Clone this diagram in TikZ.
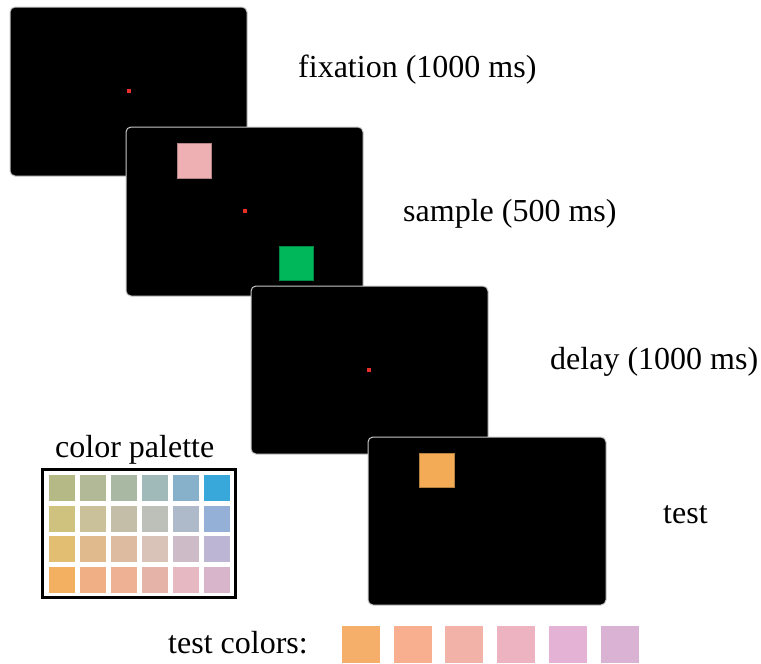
\documentclass[tikz,border=0pt]{standalone}
\usepackage{fontspec}
\setmainfont{Liberation Serif}
\begin{document}
\begin{tikzpicture}[x=1pt,y=-1pt,
  screen/.style={fill=black,draw={rgb,255:red,200;green,200;blue,200},line width=1pt,rounded corners=5pt},
  fixdot/.style={fill={rgb,255:red,232;green,48;blue,42}},
  lbl/.style={anchor=base west,inner sep=0pt,font=\fontsize{32}{38}\selectfont},
  cell/.style={draw=white,line width=0.6pt},
  stim/.style={line width=0.6pt}]
\useasboundingbox (0,0) rectangle (761,664);
% color definitions
\definecolor{pinkS}{RGB}{239,176,179}
\definecolor{greenS}{RGB}{0,184,90}
\definecolor{orangeS}{RGB}{243,172,85}
% screens
\draw[screen] (10,7) rectangle (247,176);
\fill[fixdot] (127,89) rectangle (131,93);
\draw[screen] (126,127) rectangle (363,296);
\draw[stim,fill=pinkS,draw=pinkS!75!black] (177,143) rectangle (211,178);
\fill[fixdot] (243,209) rectangle (247,213);
\draw[stim,fill=greenS,draw=greenS!75!black] (279,246) rectangle (313,280);
\draw[screen] (251,286) rectangle (488,454);
\fill[fixdot] (367,368) rectangle (371,372);
\draw[screen] (368,437) rectangle (606,605);
\draw[stim,fill=orangeS,draw=orangeS!75!black] (419,453) rectangle (454,487);
% labels
\node[lbl] (fix) at (298,77) {fixation (1000 ms)};
\node[lbl] (samp) at (403,221) {sample (500 ms)};
\node[lbl] (del) at (550,369) {delay (1000 ms)};
\node[lbl] (tst) at (663,523) {test};
\node[lbl] (pal) at (55,457) {color palette};
\node[lbl] (tcol) at (168,653) {test colors:};
% palette
\draw[line width=3pt] (42,469) rectangle (235,597);
\foreach \r/\cols in {0/{{181,185,133},{178,185,150},{168,184,163},{160,186,185},{135,176,203},{55,168,217}},
                      1/{{207,193,126},{202,192,154},{196,190,168},{188,192,185},{174,185,201},{148,176,215}},
                      2/{{226,190,114},{224,185,140},{220,187,160},{217,194,184},{205,188,200},{189,181,212}},
                      3/{{243,176,96},{240,175,132},{239,177,148},{230,179,169},{230,184,194},{216,181,203}}}{
  \foreach \c [count=\i from 0] in \cols {
    \definecolor{tmpc}{RGB}{\c}
    \draw[cell,fill=tmpc] ({48+31*\i},{474+30.8*\r}) rectangle ++(27,27);
  }
}
% test colors
\foreach \c [count=\i from 0] in {{246,174,107},{248,175,143},{243,178,167},{237,179,192},{228,178,212},{218,178,212}}{
  \definecolor{tmpc}{RGB}{\c}
  \draw[cell,fill=tmpc] ({341+51.8*\i},625) rectangle ++(39,38);
}
\end{tikzpicture}
\end{document}
